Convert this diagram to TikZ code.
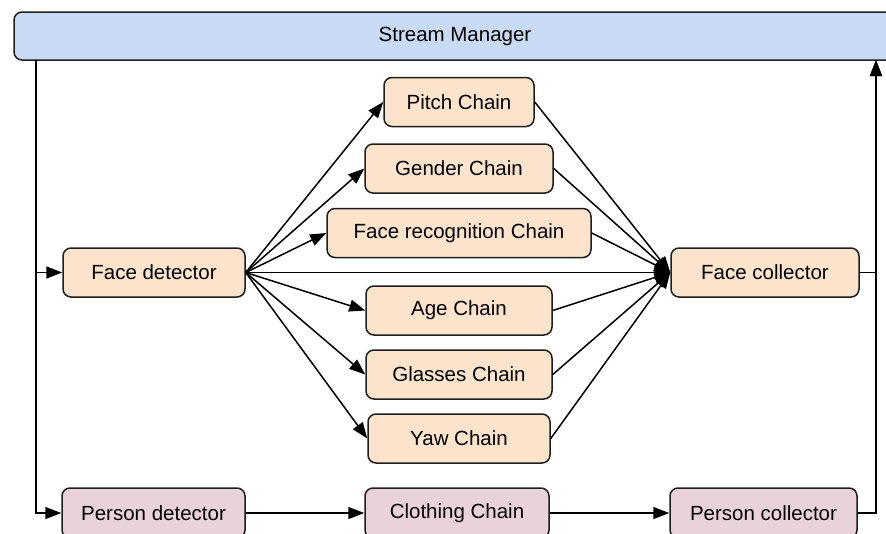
\documentclass[tikz,border=0pt]{standalone}
\usepackage{fontspec}
\setmainfont{Liberation Sans}
\usetikzlibrary{arrows.meta}
\definecolor{smfill}{HTML}{C9DAF5}
\definecolor{facefill}{HTML}{FCE4CC}
\definecolor{personfill}{HTML}{EAD2DD}
\definecolor{edge}{HTML}{1E1E1E}
\tikzset{
  box/.style={draw=edge, line width=1.5pt, rounded corners=8pt, inner sep=0pt,
    font=\fontsize{20.5}{24}\selectfont},
  facebox/.style={box, fill=facefill, minimum height=49pt},
  personbox/.style={box, fill=personfill, minimum height=50pt},
  flow/.style={draw=black, line width=1.5pt, -{Triangle[length=16pt,width=12pt]}},
}
\begin{document}
\begin{tikzpicture}[x=1pt,y=-1pt]
\useasboundingbox (0,0) rectangle (886,533);
\clip (0,0) rectangle (886,533);
% stream manager bar
\node[box, fill=smfill, minimum width=882pt, minimum height=48pt] (sm) at (455,36) {Stream Manager};
\coordinate (smL) at (36,60);
\coordinate (smR) at (876,60);
% face pipeline
\node[facebox, minimum width=182pt] (fd) at (154,272.5) {Face detector};
\node[facebox, minimum width=150pt] (pitch) at (459,102) {Pitch Chain};
\node[facebox, minimum width=188pt] (gender) at (459,168.5) {Gender Chain};
\node[facebox, minimum width=264pt] (facerec) at (459,233) {Face recognition Chain};
\node[facebox, minimum width=186pt] (age) at (459,310.5) {Age Chain};
\node[facebox, minimum width=186pt] (glasses) at (459,374.5) {Glasses Chain};
\node[facebox, minimum width=182pt] (yaw) at (459,438.5) {Yaw Chain};
\node[facebox, minimum width=188pt] (fc) at (765,272.5) {Face collector};
% person pipeline
\node[personbox, minimum width=183pt] (pd) at (153.5,513) {Person detector};
\node[personbox, minimum width=184pt] (cc) at (457,513) {Clothing Chain};
\node[personbox, minimum width=187pt] (pc) at (763.5,513) {Person collector};
% connectors
\draw[flow] (smL) |- (fd.west);
\draw[flow] (smL) |- (pd.west);
\foreach \c in {pitch,gender,facerec,age,glasses,yaw}{
  \draw[flow] (fd.east) -- (\c.west);
  \draw[flow] (\c.east) -- (fc.west);
}
\draw[flow] (fd.east) -- (fc.west);
\draw[flow] (pd) -- (cc);
\draw[flow] (cc) -- (pc);
\draw[flow] (fc.east) -| (smR);
\draw[flow] (pc.east) -| (smR);
\end{tikzpicture}
\end{document}
